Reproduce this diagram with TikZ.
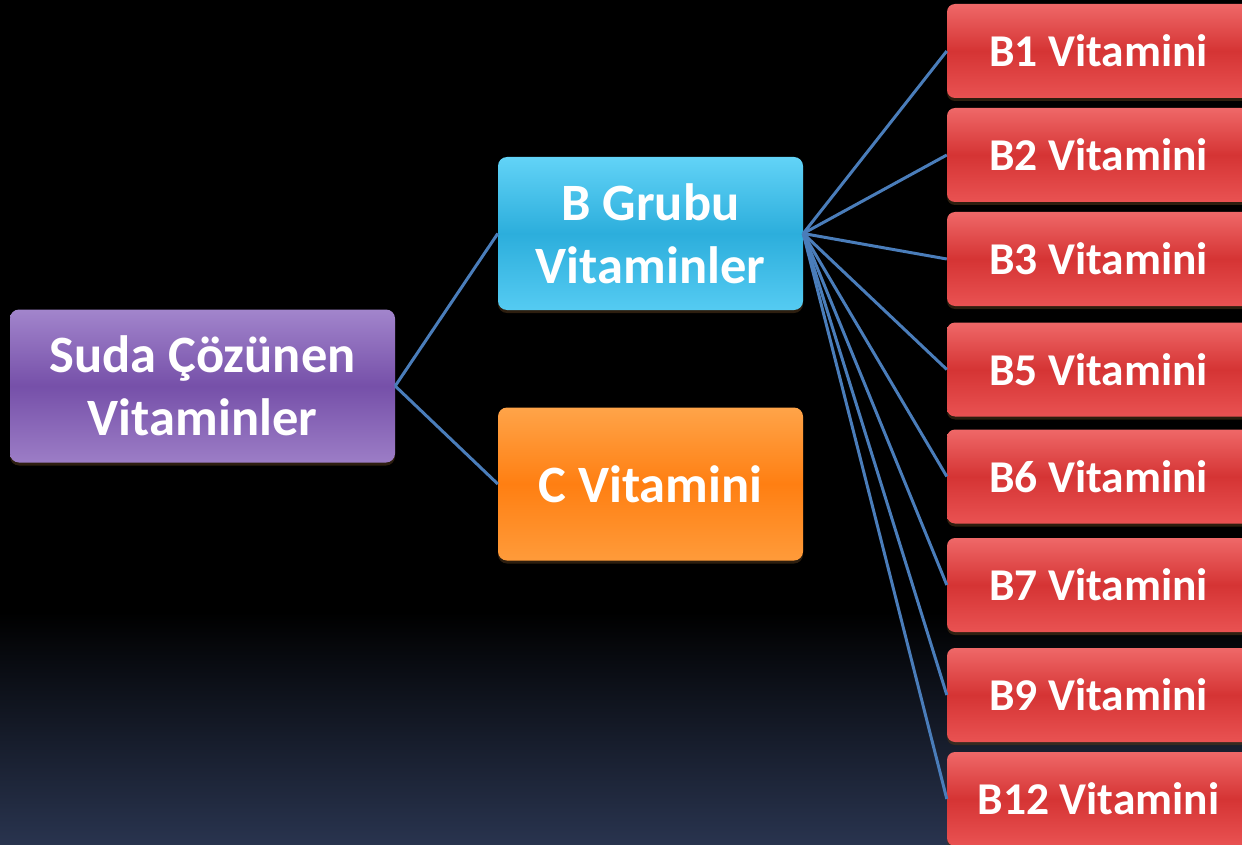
\documentclass[tikz,border=0pt]{standalone}
\usepackage{fontspec}
\setmainfont{Carlito}
\usetikzlibrary{shadows}
\definecolor{bgblue}{HTML}{29344F}
\definecolor{linkblue}{HTML}{4A7DBA}
\definecolor{puTop}{HTML}{A285CC}
\definecolor{puMid}{HTML}{7650A9}
\definecolor{puBot}{HTML}{9C7DC6}
\definecolor{blTop}{HTML}{62D3F7}
\definecolor{blMid}{HTML}{2CAEDC}
\definecolor{blBot}{HTML}{55CBF2}
\definecolor{orTop}{HTML}{FFA449}
\definecolor{orMid}{HTML}{FF7F12}
\definecolor{orBot}{HTML}{FF9B3A}
\definecolor{rdTop}{HTML}{EF6868}
\definecolor{rdMid}{HTML}{D53434}
\definecolor{rdBot}{HTML}{E95252}
\begin{document}
\begin{tikzpicture}[x=1pt,y=-1pt,
  box/.style={rectangle, rounded corners=9pt, text=white, align=center, inner sep=0pt,
    font=\bfseries\fontsize{52.5}{63}\selectfont,
    drop shadow={shadow xshift=0pt, shadow yshift=-3pt, opacity=0.6, fill=black!60!brown}},
  purplebox/.style={box, top color=puTop, bottom color=puBot, middle color=puMid,
    minimum width=385pt, minimum height=153pt},
  bluebox/.style={box, top color=blTop, bottom color=blBot, middle color=blMid,
    minimum width=305pt, minimum height=153pt},
  orangebox/.style={box, top color=orTop, bottom color=orBot, middle color=orMid,
    minimum width=305pt, minimum height=153pt},
  redbox/.style={box, rounded corners=8pt, top color=rdTop, bottom color=rdBot, middle color=rdMid,
    minimum width=303pt, minimum height=94pt, font=\bfseries\fontsize{45.5}{55}\selectfont},
  link/.style={draw=linkblue, line width=3pt}
]
\useasboundingbox (0,0) rectangle (1242,845);
\clip (0,0) rectangle (1242,845);
\fill[black] (0,0) rectangle (1242,845);
\shade[top color=black, bottom color=bgblue] (0,612) rectangle (1242,846);

\node[purplebox] (suda) at (202.5,386) {Suda Çözünen\\Vitaminler};
\node[bluebox] (bgrup) at (650.5,233.5) {B Grubu\\Vitaminler};
\node[orangebox] (cvit) at (650.5,484) {C Vitamini};

\node[redbox] (b1) at (1098.5,51) {B1 Vitamini};
\node[redbox] (b2) at (1098.5,155) {B2 Vitamini};
\node[redbox] (b3) at (1098.5,259) {B3 Vitamini};
\node[redbox] (b5) at (1098.5,369.5) {B5 Vitamini};
\node[redbox] (b6) at (1098.5,476.5) {B6 Vitamini};
\node[redbox] (b7) at (1098.5,585) {B7 Vitamini};
\node[redbox] (b9) at (1098.5,695) {B9 Vitamini};
\node[redbox] (b12) at (1098.5,799) {B12 Vitamini};

\draw[link] (suda.east) -- (bgrup.west);
\draw[link] (suda.east) -- (cvit.west);
\foreach \r in {b1,b2,b3,b5,b6,b7,b9,b12}
  \draw[link] (bgrup.east) -- (\r.west);
\end{tikzpicture}
\end{document}
